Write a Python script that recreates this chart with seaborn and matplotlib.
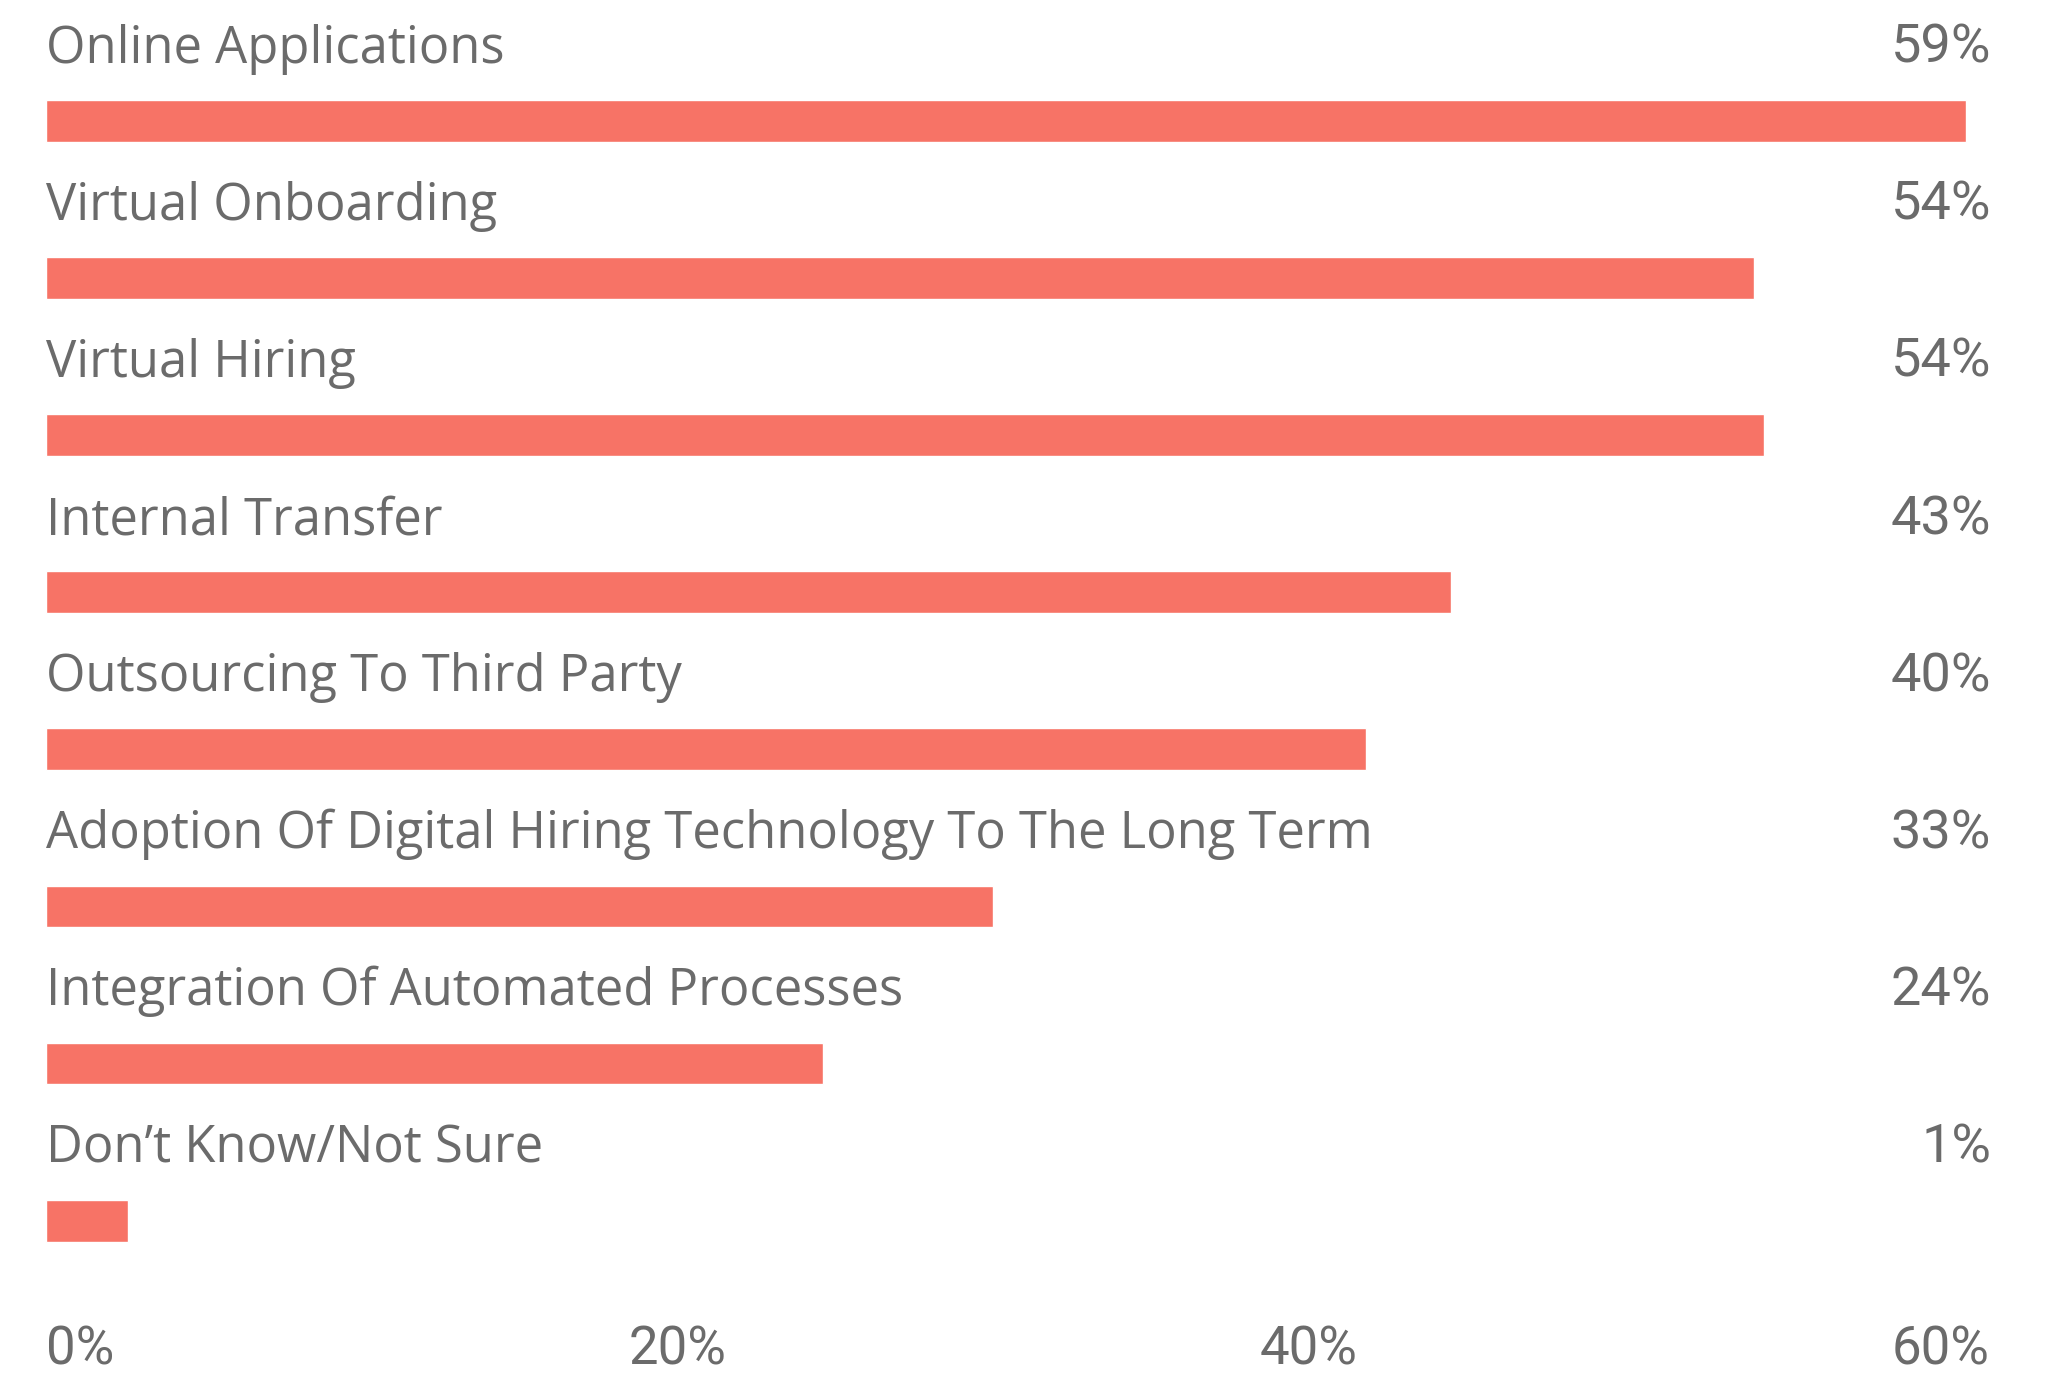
import matplotlib
matplotlib.use("Agg")
import matplotlib.pyplot as plt
import pandas as pd
import seaborn as sns

# values
categories = [
    "Online Applications",
    "Virtual Onboarding",
    "Virtual Hiring",
    "Internal Transfer",
    "Outsourcing To Third Party",
    "Adoption Of Digital Hiring Technology To The Long Term",
    "Integration Of Automated Processes",
    "Don\u2019t Know/Not Sure",
]
bar_values = [60.8, 54.1, 54.4, 44.5, 41.8, 30.0, 24.6, 2.6]
value_labels = ["59%", "54%", "54%", "43%", "40%", "33%", "24%", "1%"]
x_ticks = [0, 20, 40, 60]
x_tick_labels = ["0%", "20%", "40%", "60%"]

BAR = "#F77366"
GREY = "#6B6B6B"

df = pd.DataFrame({"category": categories, "value": bar_values})

sns.set_theme(style="white")
plt.rcParams["font.family"] = ["Open Sans", "DejaVu Sans"]

fig = plt.figure(figsize=(20.45, 13.75), dpi=100)
ax = fig.add_axes([0.0223, 0.0516, 0.9514, 0.9484])

sns.barplot(data=df, x="value", y="category", orient="h", color=BAR,
            saturation=1, width=0.265, ax=ax)

ax.set_xlim(0, 61.6)
ax.set_ylim(7.53, -0.768)
for s in ax.spines.values():
    s.set_visible(False)
ax.set_ylabel("")
ax.set_xlabel("")
ax.set_yticks([])
ax.set_xticks(x_ticks)
ax.set_xticklabels(x_tick_labels, fontsize=38, color=GREY, family=["Roboto", "DejaVu Sans"])
ax.tick_params(axis="x", length=0, pad=15)
ax.get_xticklabels()[0].set_horizontalalignment("left")

for i, (cat, lab) in enumerate(zip(categories, value_labels)):
    ax.text(0, i - 0.37, cat, fontsize=36.5, color=GREY, ha="left", va="baseline")
    ax.text(1.0, i - 0.37, lab, fontsize=39, color=GREY, ha="right", va="baseline",
            transform=ax.get_yaxis_transform(), family=["Roboto", "DejaVu Sans"])

fig.savefig("out.png", dpi=100)
